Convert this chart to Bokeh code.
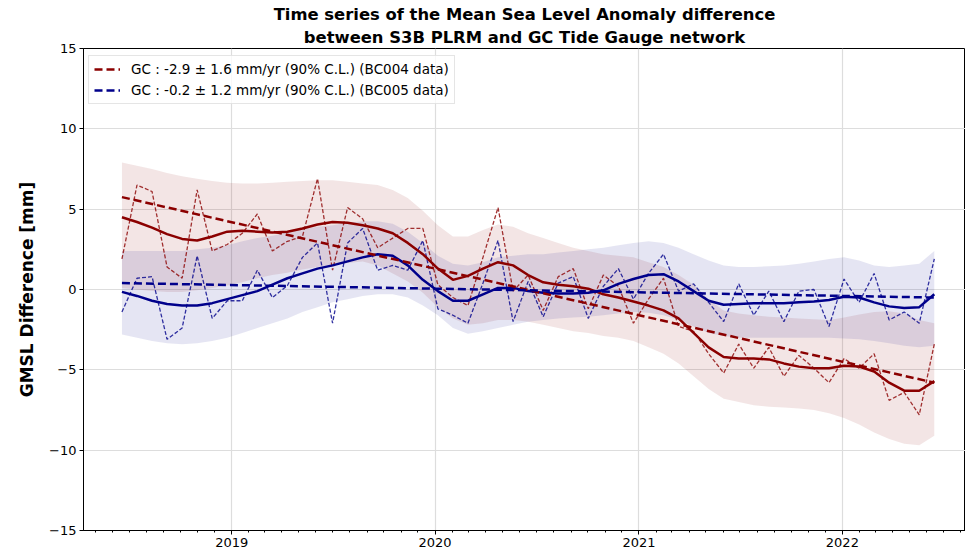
from datetime import datetime, timedelta
from bokeh.plotting import figure
from bokeh.models import Range1d, FixedTicker, DatetimeTickFormatter, Title, Legend, LegendItem
from bokeh.embed import file_html
from bokeh.resources import INLINE

# ---------------- data ----------------
start_date = datetime(2018, 6, 18)   # first S3B cycle shown
cycle_days = 27                       # S3B repeat cycle

red_raw = [1.9, 6.5, 6.1, 1.4, 0.7, 6.2, 2.4, 2.8, 3.5, 4.7,
           2.4, 3.0, 3.3, 6.9, 1.2, 5.1, 4.4, 2.6, 3.2, 3.8,
           3.8, 0.3, -0.5, -1.0, 2.0, 5.1, -0.1, 0.9, -1.3, 0.8,
           1.3, -1.2, 0.9, 0.2, -2.1, -0.6, 0.7, -2.3, -2.6, -4.0,
           -5.2, -3.4, -4.9, -3.6, -5.4, -4.1, -4.9, -5.8, -4.3, -4.9,
           -4.0, -6.9, -6.4, -7.8, -3.4]
red_smooth = [4.5, 4.2, 3.85, 3.45, 3.15, 3.05, 3.3, 3.6, 3.65, 3.6,
              3.55, 3.6, 3.8, 4.05, 4.2, 4.15, 4.0, 3.8, 3.5, 2.9,
              2.2, 1.3, 0.6, 0.85, 1.3, 1.7, 1.5, 0.9, 0.45, 0.3,
              0.2, 0.05, -0.3, -0.5, -0.75, -1.0, -1.3, -1.8, -2.7, -3.6,
              -4.2, -4.3, -4.3, -4.35, -4.6, -4.8, -4.9, -4.9, -4.75, -4.8,
              -5.1, -5.8, -6.3, -6.3, -5.7]
red_upper = [7.9, 7.7, 7.5, 7.25, 7.05, 6.9, 6.75, 6.65, 6.6, 6.6,
             6.65, 6.7, 6.75, 6.8, 6.8, 6.7, 6.6, 6.5, 6.2, 5.7,
             4.9, 4.0, 3.3, 3.3, 3.7, 4.05, 3.9, 3.5, 3.2, 2.9,
             2.6, 2.4, 2.2, 2.1, 2.0, 1.7, 1.4, 0.9, 0.3, -0.6,
             -1.3, -1.5, -1.6, -1.7, -1.75, -1.8, -1.85, -1.9, -1.75, -1.55,
             -1.4, -1.35, -1.5, -1.9, -2.1]
red_lower = [0.1, 0.0, -0.1, -0.15, -0.15, -0.05, 0.1, 0.25, 0.45, 0.7,
             0.9, 1.05, 1.25, 1.4, 1.55, 1.65, 1.75, 1.5, 1.0, 0.5,
             -0.2, -1.1, -1.8, -2.2, -2.1, -1.9, -1.9, -2.0, -2.2, -2.4,
             -2.6, -2.7, -2.9, -3.0, -3.2, -3.6, -4.0, -4.6, -5.4, -6.2,
             -6.8, -7.0, -7.2, -7.3, -7.35, -7.4, -7.5, -7.7, -8.0, -8.4,
             -8.9, -9.3, -9.6, -9.7, -9.1]

blue_raw = [-1.4, 0.7, 0.8, -3.1, -2.4, 2.1, -1.8, -0.7, -0.7, 1.2,
            -0.5, 0.25, 2.0, 2.9, -2.1, 2.9, 3.8, 1.2, 1.5, 1.2,
            3.05, -1.2, -1.6, -2.1, 0.4, 3.05, -2.0, 0.5, -1.7, 0.4,
            0.8, -1.8, 0.2, 1.3, -0.6, 1.0, 2.2, -0.1, 0.35, -0.8,
            -2.0, 0.35, -1.6, -0.1, -2.0, -0.1, 0.0, -2.3, 0.65, -0.8,
            1.0, -1.9, -1.4, -2.1, 1.9]
blue_smooth = [-0.15, -0.4, -0.7, -0.9, -1.0, -1.0, -0.85, -0.6, -0.35, -0.1,
               0.3, 0.7, 1.0, 1.3, 1.5, 1.75, 2.0, 2.2, 2.1, 1.5,
               0.6, -0.1, -0.7, -0.7, -0.3, 0.1, 0.1, -0.1, -0.2, -0.25,
               -0.25, -0.2, -0.05, 0.35, 0.65, 0.9, 0.95, 0.5, -0.1, -0.7,
               -0.95, -0.9, -0.85, -0.85, -0.85, -0.8, -0.75, -0.65, -0.45, -0.5,
               -0.8, -1.05, -1.15, -1.1, -0.3]
blue_upper = [2.4, 2.4, 2.4, 2.4, 2.4, 2.5, 2.6, 2.75, 3.0, 3.2,
              3.35, 3.55, 3.75, 3.9, 4.0, 4.15, 4.25, 4.25, 4.1, 3.6,
              2.9, 2.1, 1.6, 1.5, 1.7, 2.0, 2.1, 2.2, 2.2, 2.3,
              2.4, 2.5, 2.6, 2.75, 2.9, 3.0, 2.9, 2.6, 2.2, 1.8,
              1.5, 1.4, 1.4, 1.45, 1.5, 1.6, 1.75, 1.9, 2.0, 1.8,
              1.5, 1.4, 1.5, 1.6, 2.4]
blue_lower = [-2.8, -3.0, -3.2, -3.35, -3.4, -3.35, -3.2, -3.0, -2.7, -2.4,
              -2.1, -1.8, -1.4, -1.1, -0.8, -0.6, -0.4, -0.3, -0.3, -0.5,
              -1.0, -1.6, -2.4, -2.75, -2.6, -2.4, -2.2, -2.0, -1.9, -1.8,
              -1.75, -1.7, -1.6, -1.5, -1.4, -1.45, -1.6, -1.9, -2.3, -2.7,
              -2.9, -3.0, -3.0, -3.0, -3.0, -3.0, -3.0, -3.0, -3.05, -3.1,
              -3.2, -3.35, -3.5, -3.6, -3.5]

red_trend = [5.75, -5.8]     # value at first and last date
blue_trend = [0.4, -0.5]

red_label = "GC : -2.9 \u00b1 1.6 mm/yr (90% C.L.) (BC004 data)"
blue_label = "GC : -0.2 \u00b1 1.2 mm/yr (90% C.L.) (BC005 data)"
title_line1 = "Time series of the Mean Sea Level Anomaly difference"
title_line2 = "between S3B PLRM and GC Tide Gauge network"
y_label = "GMSL Difference [mm]"
y_ticks = [-15, -10, -5, 0, 5, 10, 15]
y_tick_labels = ["\u221215", "\u221210", "\u22125", "0", "5", "10", "15"]
year_ticks = [2019, 2020, 2021, 2022]

# ---------------- derived ----------------
dates = [start_date + timedelta(days=cycle_days * i) for i in range(len(red_raw))]
trend_dates = [dates[0], dates[-1]]
epoch = datetime(1970, 1, 1)
def ms(d):
    return (d - epoch).total_seconds() * 1000.0

major_ms = [ms(datetime(y, 1, 1)) for y in year_ticks]
minor_ms = []
for y in range(2018, 2023):
    for m in range(1, 13):
        minor_ms.append(ms(datetime(y, m, 1)))

RED = "#8b0000"
BLUE = "#00008b"
FONT = "DejaVu Sans"

p = figure(width=965, height=552, x_axis_type="datetime",
           x_range=Range1d(datetime(2018, 4, 10), datetime(2022, 8, 10)),
           y_range=Range1d(-15, 15),
           output_backend="svg", toolbar_location=None,
           min_border_left=83, min_border_right=0, min_border_top=48, min_border_bottom=22)

# title: two lines (second line added first = closest to the plot)
p.title.text = ""
p.title.standoff = 0
p.add_layout(Title(text=title_line2, align="center", text_font=FONT,
                   text_font_style="bold", text_font_size="16.4px", text_color="black",
                   text_line_height=1.0, standoff=4), "above")
p.add_layout(Title(text=title_line1, align="center", text_font=FONT,
                   text_font_style="bold", text_font_size="16.4px", text_color="black",
                   text_line_height=1.0, standoff=0), "above")

# bands
p.varea(x=dates, y1=red_lower, y2=red_upper, fill_color=RED, fill_alpha=0.1)
p.varea(x=dates, y1=blue_lower, y2=blue_upper, fill_color=BLUE, fill_alpha=0.1)
# raw series
p.line(dates, red_raw, line_color=RED, line_width=1.3, line_dash="4 2", line_alpha=0.8)
p.line(dates, blue_raw, line_color=BLUE, line_width=1.3, line_dash="4 2", line_alpha=0.8)
# smoothed
p.line(dates, red_smooth, line_color=RED, line_width=2.5)
p.line(dates, blue_smooth, line_color=BLUE, line_width=2.5)
# trends
r_tr = p.line(trend_dates, red_trend, line_color=RED, line_width=2.5, line_dash="8 4")
b_tr = p.line(trend_dates, blue_trend, line_color=BLUE, line_width=2.5, line_dash="8 4")

legend = Legend(items=[LegendItem(label=red_label, renderers=[r_tr]),
                       LegendItem(label=blue_label, renderers=[b_tr])],
                location=(5, 426), margin=0, padding=5, spacing=5,
                label_text_font=FONT, label_text_font_size="13.5px",
                label_text_color="black",
                glyph_width=26, glyph_height=14, label_standoff=11,
                border_line_color="#cccccc", border_line_width=1,
                background_fill_color="white", background_fill_alpha=0.8)
p.add_layout(legend)

# axes
p.xaxis.ticker = FixedTicker(ticks=major_ms, minor_ticks=minor_ms)
p.xaxis.formatter = DatetimeTickFormatter(years="%Y", months="%Y", days="%Y")
p.xgrid.ticker = FixedTicker(ticks=major_ms)
p.yaxis.ticker = FixedTicker(ticks=y_ticks)
p.yaxis.major_label_overrides = {t: l for t, l in zip(y_ticks, y_tick_labels)}
p.yaxis.axis_label = y_label
p.yaxis.axis_label_text_font = FONT
p.yaxis.axis_label_text_font_style = "bold"
p.yaxis.axis_label_text_font_size = "17px"
p.yaxis.axis_label_text_color = "black"
p.yaxis.axis_label_standoff = 9
p.xaxis.axis_label_standoff = 0
for ax in (p.xaxis, p.yaxis):
    ax.major_label_text_font = FONT
    ax.major_label_text_font_size = "13px"
    ax.major_label_text_color = "black"
    ax.axis_line_color = "black"
    ax.major_tick_line_color = "black"
    ax.major_tick_in = 0
    ax.major_tick_out = 4
    ax.minor_tick_in = 0
    ax.minor_tick_out = 2
    ax.major_label_standoff = 3
p.yaxis.minor_tick_line_color = None
p.xgrid.grid_line_color = "#dddddd"
p.ygrid.grid_line_color = "#dddddd"
p.xgrid.grid_line_width = 1.2
p.ygrid.grid_line_width = 1.2
p.outline_line_color = "black"
p.outline_line_alpha = 1.0

open("out.html", "w").write(file_html(p, INLINE))
